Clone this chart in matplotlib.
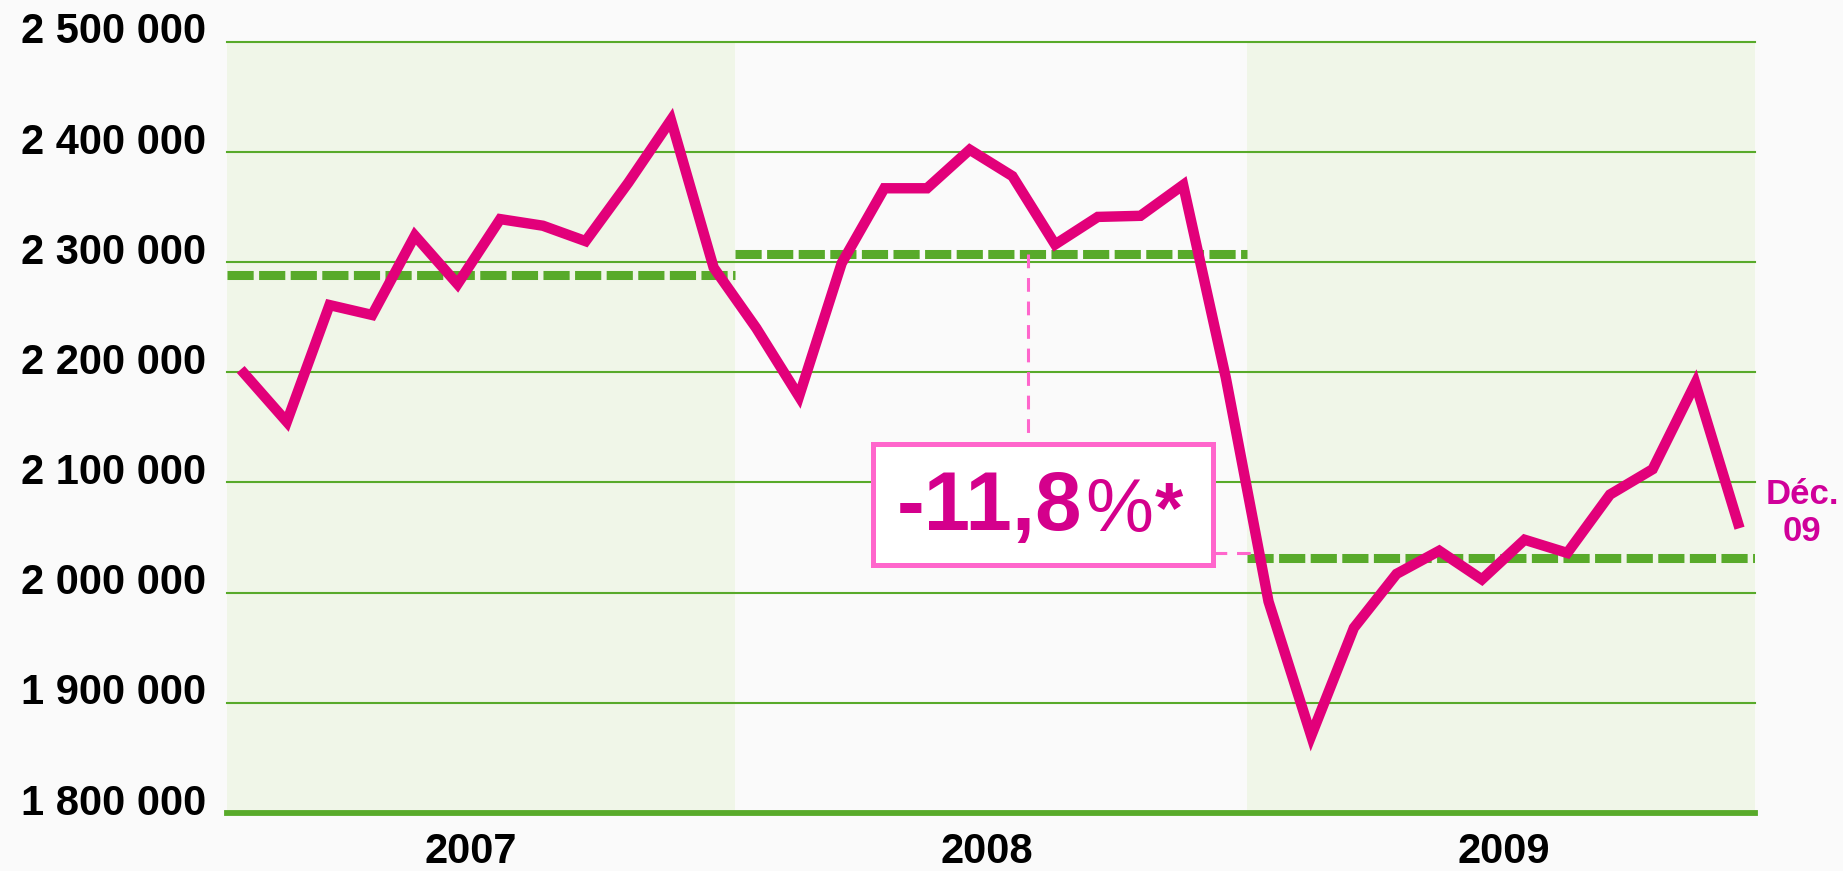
import matplotlib
matplotlib.use("Agg")
import matplotlib.pyplot as plt
from matplotlib.patches import Rectangle
from matplotlib.transforms import ScaledTranslation, blended_transform_factory

plt.rcParams['font.family'] = ['Liberation Sans', 'DejaVu Sans']

# monthly values, Jan 2007 .. Dec 2009 (in thousands)
values_2007 = [2199, 2155, 2261, 2252, 2324, 2280, 2339, 2333, 2319, 2372, 2429, 2295]
values_2008 = [2240, 2178, 2299, 2367, 2367, 2402, 2378, 2316, 2341, 2342, 2370, 2195]
values_2009 = [1992, 1870, 1968, 2017, 2038, 2012, 2048, 2036, 2089, 2112, 2190, 2063]
years = ["2007", "2008", "2009"]
year_means = [2288, 2307, 2031]
yticks = [1800000, 1900000, 2000000, 2100000, 2200000, 2300000, 2400000, 2500000]
change_label = "-11,8"
last_label = "Déc.\n09"

values = [v * 1000 for v in values_2007 + values_2008 + values_2009]
months = list(range(len(values)))

bg = '#fafafa'
band = '#f0f6e8'
green = '#58aa2a'
magenta = '#e2007a'
text_mag = '#d4008c'
pink = '#ff66cc'

fig = plt.figure(figsize=(18.43, 8.71), dpi=100, facecolor=bg)
ax = fig.add_axes([0.1232, 0.0666, 0.8291, 0.8855])
ax.set_facecolor(bg)
ax.set_xlim(-0.4, 35.4)
ax.set_ylim(1800000, 2500000)

# year bands
ax.axvspan(-0.4, 11.5, color=band, zorder=0, lw=0)
ax.axvspan(23.5, 35.4, color=band, zorder=0, lw=0)

# grid
for y in yticks[1:]:
    ax.axhline(y, color=green, lw=1.5, zorder=1, clip_on=False)
ax.axhline(1800000, color=green, lw=4.2, zorder=2, clip_on=False)

# yearly averages
starts = [-0.4, 11.5, 23.5]
ends = [11.5, 23.5, 35.4]
for s, e, m in zip(starts, ends, year_means):
    ax.plot([s, e], [m * 1000, m * 1000], color=green, lw=6.5,
            dashes=(2.9, 0.6), solid_capstyle='butt', dash_capstyle='butt', zorder=3)

# monthly line
ax.plot(months, values, color=magenta, lw=7.5, solid_joinstyle='miter', zorder=5)

# connectors
ax.plot([18.37, 18.37], [year_means[1] * 1000, 2135000], color=pink, lw=2.2,
        dashes=(4.5, 3.2), zorder=4)
ax.plot([22.7, 23.6], [2036000, 2036000], color=pink, lw=2.2,
        dashes=(4.5, 3.2), zorder=4)

# annotation box
ax.add_patch(Rectangle((14.74, 2025500), 22.70 - 14.74, 2134800 - 2025500,
                       facecolor='white', edgecolor=pink, lw=3.6, zorder=6))
t1 = ax.text(15.3, 2057000, change_label, color=text_mag, fontsize=60,
             fontweight='bold', ha='left', va='baseline', zorder=7)
t2 = ax.annotate('%', xy=(1, 0), xycoords=t1, xytext=(2, 0), textcoords='offset points',
                 color=text_mag, fontsize=55, ha='left', va='bottom', zorder=7)
ax.annotate('*', xy=(1, 0), xycoords=t2, xytext=(1, 0), textcoords='offset points',
            color=text_mag, fontsize=52, fontweight='bold', ha='left', va='bottom', zorder=7)

# last month label
ax.text(36.5, 2072000, last_label, color='#d0009a', fontsize=25, fontweight='bold',
        ha='center', va='center', linespacing=1.15, clip_on=False)

# axes
ax.set_yticks(yticks)
ax.set_yticklabels([f"{v:,}".replace(",", " ") for v in yticks],
                   fontsize=30, fontweight='bold')
ax.tick_params(axis='y', length=0, pad=15)
for lab in ax.get_yticklabels():
    lab.set_transform(lab.get_transform() + ScaledTranslation(0, 10 / 72, fig.dpi_scale_trans))
ax.set_xticks([])
for sp in ax.spines.values():
    sp.set_visible(False)

trans = blended_transform_factory(ax.transData, ax.transAxes)
for x, yr in zip([5.3, 17.4, 29.5], years):
    ax.text(x, -0.05, yr, transform=trans, fontsize=30, fontweight='bold',
            ha='center', va='center')

fig.savefig("out.png", dpi=100, facecolor=bg)
